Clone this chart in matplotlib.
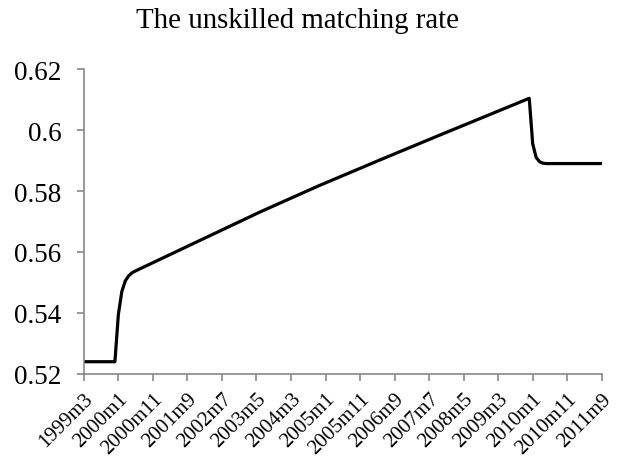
import matplotlib
matplotlib.use("Agg")
import matplotlib.pyplot as plt

# month offsets from 1999m3 and the matching rate
months = [0, 9, 10, 11, 12, 13, 14, 15, 34, 51, 68, 86, 103, 129,
          130, 131, 132, 133, 134, 150]
rate = [0.5240, 0.5240, 0.5395, 0.5470, 0.5505, 0.5522, 0.5532, 0.5538, 0.5640,
        0.5731, 0.5817, 0.5903, 0.5983, 0.6104,
        0.5955, 0.5910, 0.5896, 0.5891, 0.5890, 0.5890]

tick_labels = ["1999m3", "2000m1", "2000m11", "2001m9", "2002m7", "2003m5", "2004m3",
               "2005m1", "2005m11", "2006m9", "2007m7", "2008m5", "2009m3", "2010m1",
               "2010m11", "2011m9"]
y_ticks = [0.52, 0.54, 0.56, 0.58, 0.6, 0.62]
y_labels = ["0.52", "0.54", "0.56", "0.58", "0.6", "0.62"]

plt.rcParams["font.family"] = ["Liberation Serif", "DejaVu Serif"]
grey = "#878787"

fig = plt.figure(figsize=(6.21, 4.64), dpi=100)
ax = fig.add_axes([0.135, 0.192, 0.834, 0.657])

ax.plot(months, rate, color="black", linewidth=2.3, solid_joinstyle="round")

ax.set_xlim(0, 150)
ax.set_ylim(0.52, 0.62)
ax.set_xticks(range(0, 151, 10))
ax.set_xticklabels(tick_labels, rotation=45, ha="right", va="top",
                   rotation_mode="anchor", fontsize=15)
ax.set_yticks(y_ticks)
ax.set_yticklabels(y_labels, fontsize=19.5)

for side in ["top", "right"]:
    ax.spines[side].set_visible(False)
for side in ["left", "bottom"]:
    ax.spines[side].set_color(grey)
    ax.spines[side].set_linewidth(1.2)
ax.tick_params(axis="both", direction="out", length=5, width=1.2, color=grey)
ax.tick_params(axis="y", pad=11)
ax.tick_params(axis="x", pad=6)

fig.text(0.4795, 1 - 28 / 464, "The unskilled matching rate", ha="center",
         va="baseline", fontsize=20.8)

fig.savefig("out.png", dpi=100)
